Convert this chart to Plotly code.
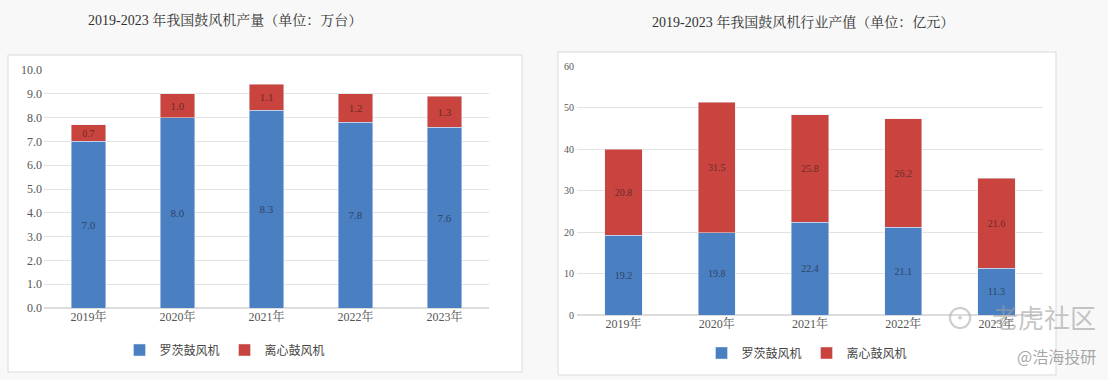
import plotly.graph_objects as go

years = ["2019年", "2020年", "2021年", "2022年", "2023年"]
series_names = ["罗茨鼓风机", "离心鼓风机"]

# Left chart: output (万台)
roots_output = [7.0, 8.0, 8.3, 7.8, 7.6]
centrifugal_output = [0.7, 1.0, 1.1, 1.2, 1.3]

# Right chart: industry output value (亿元)
roots_value = [19.2, 19.8, 22.4, 21.1, 11.3]
centrifugal_value = [20.8, 31.5, 25.8, 26.2, 21.6]

left_ticks = [0, 1, 2, 3, 4, 5, 6, 7, 8, 9, 10]
right_ticks = [0, 10, 20, 30, 40, 50, 60]

title_left = "2019-2023 年我国鼓风机产量（单位：万台）"
title_right = "2019-2023 年我国鼓风机行业产值（单位：亿元）"

BLUE = "#4a7fc1"
RED = "#c9443f"
W, H = 1108, 380

SERIF = "Liberation Serif, Noto Serif CJK SC, Noto Sans CJK SC, serif"
SANS = "Noto Sans CJK SC, sans-serif"

def px(x):
    return x / W

def py(y):
    return 1 - y / H

fig = go.Figure()

fig.add_trace(go.Bar(x=years, y=roots_output, name=series_names[0], marker_color=BLUE,
                     text=[f"{v:.1f}" for v in roots_output], textposition="inside",
                     insidetextanchor="middle", textfont=dict(color="#2d4466", size=11, family=SERIF),
                     xaxis="x", yaxis="y", legend="legend", width=0.39))
fig.add_trace(go.Bar(x=years, y=centrifugal_output, name=series_names[1], marker_color=RED,
                     text=[f"{v:.1f}" for v in centrifugal_output], textposition="inside",
                     insidetextanchor="middle", textfont=dict(color="#6b2a28", size=11, family=SERIF),
                     xaxis="x", yaxis="y", legend="legend", width=0.39))

fig.add_trace(go.Bar(x=years, y=roots_value, name=series_names[0], marker_color=BLUE,
                     text=[f"{v:.1f}" for v in roots_value], textposition="inside",
                     insidetextanchor="middle", textfont=dict(color="#2d4466", size=10, family=SERIF),
                     xaxis="x2", yaxis="y2", legend="legend2", width=0.4))
fig.add_trace(go.Bar(x=years, y=centrifugal_value, name=series_names[1], marker_color=RED,
                     text=[f"{v:.1f}" for v in centrifugal_value], textposition="inside",
                     insidetextanchor="middle", textfont=dict(color="#6b2a28", size=10, family=SERIF),
                     xaxis="x2", yaxis="y2", legend="legend2", width=0.4))

axis_font = dict(family=SERIF, size=12, color="#555555")

fig.update_layout(
    width=W, height=H,
    margin=dict(l=0, r=0, t=0, b=0, pad=0, autoexpand=False),
    paper_bgcolor="#f8f8f8",
    plot_bgcolor="rgba(0,0,0,0)",
    barmode="stack",
    xaxis=dict(domain=[px(44), px(489)], anchor="y", showgrid=False, showline=False,
               ticks="", tickfont=axis_font, automargin=False),
    yaxis=dict(domain=[py(308), py(70)], anchor="x", range=[0, 10], tickvals=left_ticks,
               tickformat=".1f", showgrid=True, gridcolor="#e3e3e3", zeroline=True,
               zerolinecolor="#dcdcdc", tickfont=axis_font, ticks="", ticklabelstandoff=1,
               automargin=False),
    xaxis2=dict(domain=[px(577), px(1043)], anchor="y2", showgrid=False, showline=False,
                ticks="", tickfont=axis_font, automargin=False),
    yaxis2=dict(domain=[py(315), py(66)], anchor="x2", range=[0, 60], tickvals=right_ticks,
                showgrid=True, gridcolor="#e3e3e3", zeroline=True, zerolinecolor="#dcdcdc",
                tickfont=dict(family=SERIF, size=10, color="#555555"), ticks="", ticklabelstandoff=2,
                automargin=False),
    legend=dict(orientation="h", x=px(225), xanchor="center", y=py(350), yanchor="middle",
                font=dict(family=SANS, size=12, color="#444444"), bgcolor="rgba(0,0,0,0)",
                itemwidth=30, traceorder="normal"),
    legend2=dict(orientation="h", x=px(807), xanchor="center", y=py(353), yanchor="middle",
                 font=dict(family=SANS, size=12, color="#444444"), bgcolor="rgba(0,0,0,0)",
                 itemwidth=30, traceorder="normal"),
    shapes=[
        dict(type="rect", xref="paper", yref="paper", x0=px(8), x1=px(522), y0=py(372), y1=py(55),
             line=dict(color="#dadada", width=1), fillcolor="white", layer="below"),
        dict(type="rect", xref="paper", yref="paper", x0=px(558), x1=px(1056), y0=py(375), y1=py(52),
             line=dict(color="#dadada", width=1), fillcolor="white", layer="below"),
    ],
    annotations=[
        dict(text=title_left, x=px(225), y=py(20), xref="paper", yref="paper", showarrow=False,
             font=dict(family=SERIF, size=14, color="#333333"), xanchor="center", yanchor="middle"),
        dict(text=title_right, x=px(803), y=py(22), xref="paper", yref="paper", showarrow=False,
             font=dict(family=SERIF, size=14, color="#333333"), xanchor="center", yanchor="middle"),
        dict(text="老虎社区", x=px(1098), y=py(316), xref="paper", yref="paper", showarrow=False,
             font=dict(family=SANS, size=26, color="rgba(160,160,160,0.6)"), xanchor="right", yanchor="middle"),
        dict(text="⊙", x=px(960), y=py(316), xref="paper", yref="paper", showarrow=False,
             font=dict(family=SANS, size=30, color="rgba(170,170,170,0.6)"), xanchor="center", yanchor="middle"),
        dict(text="@浩海投研", x=px(1098), y=py(356), xref="paper", yref="paper", showarrow=False,
             font=dict(family=SANS, size=16, color="rgba(150,150,150,0.85)"), xanchor="right", yanchor="middle"),
    ],
)

post = (
    "document.documentElement.style.margin='0';"
    "document.body.style.margin='0';document.body.style.padding='0';"
    "document.documentElement.style.overflow='hidden';document.body.style.overflow='hidden';"
)

fig.write_html("out.html", config={"displayModeBar": False}, post_script=post)
